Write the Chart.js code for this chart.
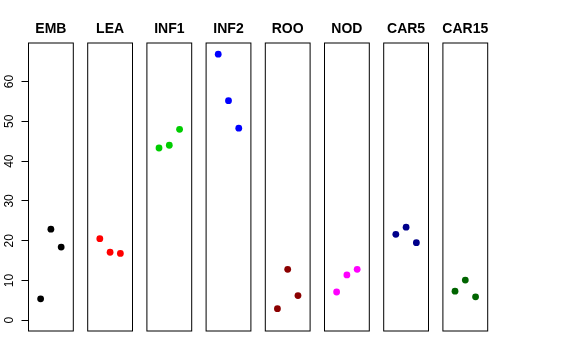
<!DOCTYPE html>
<html>
<head>
<meta charset="utf-8">
<script src="https://cdn.jsdelivr.net/npm/chart.js@4.4.1/dist/chart.umd.min.js"></script>
<style>
  html, body { margin: 0; padding: 0; background: #fff; }
  #wrap { position: relative; width: 576px; height: 360px; }
  #wrap canvas { position: absolute; left: 0; top: 0; }
</style>
</head>
<body>
<div id="wrap"></div>
<script>
const GROUPS = ['EMB', 'LEA', 'INF1', 'INF2', 'ROO', 'NOD', 'CAR5', 'CAR15'];
const COLORS = ['#000000', '#ff0000', '#00cd00', '#0000ff', '#8b0000', '#ff00ff', '#00008b', '#006400'];

// three replicates per group
const EMB   = [5.4, 22.9, 18.4];
const LEA   = [20.5, 17.1, 16.8];
const INF1  = [43.3, 44.0, 48.0];
const INF2  = [66.9, 55.2, 48.3];
const ROO   = [2.9, 12.8, 6.2];
const NOD   = [7.1, 11.4, 12.8];
const CAR5  = [21.6, 23.4, 19.5];
const CAR15 = [7.3, 10.1, 5.9];
const SERIES = [EMB, LEA, INF1, INF2, ROO, NOD, CAR5, CAR15];

const Y_TICKS = [0, 10, 20, 30, 40, 50, 60];
const Y_MIN = -2.7, Y_MAX = 69.7;

const FONT = "'Liberation Sans', Arial, Helvetica, sans-serif";
const W = 576, H = 360;
const LEFT0 = 28.5, PITCH = 59.2, PANEL_W = 44.8, TOP = 43, BOTTOM = 331;

// box round the plot area + bold panel title
const panelDecor = {
    id: 'panelDecor',
    afterDraw(chart, args, opts) {
        const { ctx, chartArea: a } = chart;
        ctx.save();
        ctx.strokeStyle = '#000';
        ctx.lineWidth = 1;
        ctx.strokeRect(a.left, a.top, a.right - a.left, a.bottom - a.top);
        ctx.fillStyle = '#000';
        ctx.font = 'bold 14px ' + FONT;
        ctx.textAlign = 'center';
        ctx.textBaseline = 'middle';
        ctx.fillText(opts.title, (a.left + a.right) / 2, a.top - 13.5);
        ctx.restore();
    },
};

const wrap = document.getElementById('wrap');

GROUPS.forEach((name, k) => {
    const canvas = document.createElement('canvas');
    canvas.width = W;
    canvas.height = H;
    wrap.appendChild(canvas);

    const left = LEFT0 + PITCH * k;
    const withAxis = k === 0;

    new Chart(canvas, {
        type: 'scatter',
        data: {
            datasets: [{
                data: SERIES[k].map((v, i) => ({ x: i + 1, y: v })),
                backgroundColor: COLORS[k],
                borderWidth: 0,
                pointRadius: 3.4,
            }],
        },
        options: {
            responsive: false,
            animation: false,
            devicePixelRatio: 1,
            layout: {
                padding: {
                    left: withAxis ? 0 : left,
                    right: W - left - PANEL_W,
                    top: TOP,
                    bottom: H - BOTTOM,
                },
            },
            plugins: {
                legend: { display: false },
                tooltip: { enabled: false },
                panelDecor: { title: name },
            },
            scales: {
                x: { type: 'linear', display: false, min: -0.18, max: 4.18 },
                y: {
                    type: 'linear',
                    display: withAxis,
                    min: Y_MIN,
                    max: Y_MAX,
                    afterFit: s => { if (withAxis) s.width = LEFT0; },
                    afterBuildTicks: s => { s.ticks = Y_TICKS.map(v => ({ value: v })); },
                    border: { display: false },
                    grid: {
                        display: true,
                        drawOnChartArea: false,
                        drawTicks: true,
                        tickLength: 7,
                        color: '#000',
                        lineWidth: 1,
                    },
                    ticks: {
                        minRotation: 90,
                        maxRotation: 90,
                        crossAlign: 'center',
                        padding: 5,
                        color: '#000',
                        font: { family: FONT, size: 12 },
                    },
                },
            },
        },
        plugins: [panelDecor],
    });
});
</script>
</body>
</html>
